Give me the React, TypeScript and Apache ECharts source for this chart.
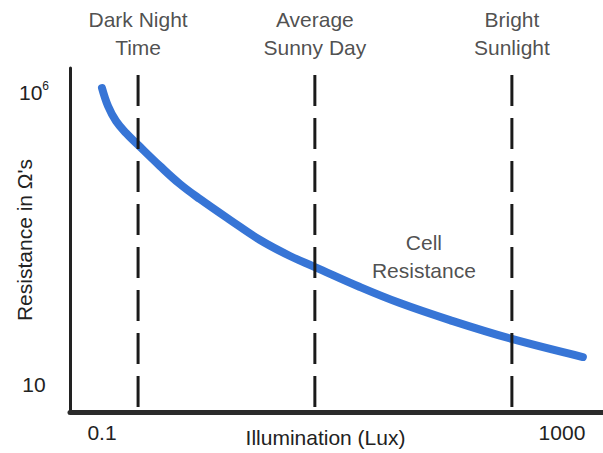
import React, { useEffect, useRef } from "react";
import * as echarts from "echarts";

// Illumination (lux) and cell resistance (ohms)
const luxPoints = [0.1, 0.1128, 0.1324, 0.1618, 0.206, 0.319, 0.476, 0.711, 1.3, 2.37, 4.31, 7.11, 17.5, 39, 106, 367, 1520];
const resistanceOhms = [1.17e6, 5.77e5, 3.2e5, 2.0e5, 1.25e5, 5.46e4, 2.69e4, 1.49e4, 6550, 2980, 1590, 1030, 470, 250, 128, 61, 30];

// Reference illumination levels (lux)
const levelNames = ["Dark Night\nTime", "Average\nSunny Day", "Bright\nSunlight"];
const levelLux = [0.206, 7.1, 367];

// Tick labels
const xTickValues = [0.1, 1000];
const xTickLabels = ["0.1", "1000"];
const yTickValues = [10, 1e6];
const yTickLabels = ["10", "10{sup|6}"];

// Axis ranges (in lux / ohms)
const xRange = [0.0527, 2275];
const yRange = [3.46, 2.57e6];
const levelTopOhms = 1.95e6;

// Curve annotation
const curveLabel = "Cell\nResistance";
const curveLabelAt = [63, 1585];

const L = (v: number) => Math.log10(v);
const FONT = "Liberation Sans";
const TXT = "#222222";

export default function App() {
  const ref = useRef<HTMLDivElement>(null);
  useEffect(() => {
    const chart = echarts.init(ref.current!, null, { renderer: "svg" });
    const near = (a: number, b: number) => Math.abs(a - b) < 1e-6;
    const series: any[] = [
      {
        type: "line",
        data: luxPoints.map((x, i) => [L(x), L(resistanceOhms[i])]),
        smooth: 0.4,
        showSymbol: false,
        symbol: "none",
        lineStyle: { color: "#3775d6", width: 8, cap: "round" },
        z: 2,
      },
      ...levelLux.map((lux) => ({
        type: "line",
        data: [
          [L(lux), L(levelTopOhms)],
          [L(lux), L(yRange[0])],
        ],
        symbol: "none",
        lineStyle: { color: "#1a1a1a", width: 3, type: [31, 12] },
        z: 3,
      })),
      {
        type: "scatter",
        symbolSize: 1,
        itemStyle: { color: "rgba(0,0,0,0)" },
        data: levelLux.map((lux, i) => ({ value: [L(lux), L(levelTopOhms)], name: levelNames[i] })),
        label: {
          show: true,
          position: "top",
          distance: 13,
          formatter: (p: any) => p.name,
          fontFamily: FONT,
          fontSize: 21,
          lineHeight: 28,
          color: TXT,
          align: "center",
        },
        z: 4,
      },
      {
        type: "scatter",
        symbolSize: 1,
        itemStyle: { color: "rgba(0,0,0,0)" },
        data: [{ value: [L(curveLabelAt[0]), L(curveLabelAt[1])], name: curveLabel }],
        label: {
          show: true,
          position: "inside",
          formatter: (p: any) => p.name,
          fontFamily: FONT,
          fontSize: 21,
          lineHeight: 28,
          color: TXT,
          align: "center",
        },
        z: 4,
      },
    ];
    chart.setOption({
      animation: false,
      backgroundColor: "#ffffff",
      grid: { left: 70, right: 0, top: 68, bottom: 41, containLabel: false, outerBoundsMode: "none" },
      xAxis: {
        type: "value",
        min: L(xRange[0]),
        max: L(xRange[1]),
        axisLine: { show: true, onZero: false, lineStyle: { color: "#2b2b2b", width: 5 } },
        axisTick: { show: false },
        splitLine: { show: false },
        axisLabel: {
          customValues: xTickValues.map(L),
          formatter: (v: number) => {
            const i = xTickValues.findIndex((t) => near(L(t), v));
            return i >= 0 ? xTickLabels[i] : "";
          },
          margin: 10,
          fontFamily: FONT,
          fontSize: 21,
          color: TXT,
        },
        name: "Illumination (Lux)",
        nameLocation: "middle",
        nameGap: 15,
        nameMoveOverlap: false,
        nameTextStyle: {
          fontFamily: FONT,
          fontSize: 21,
          color: TXT,
          verticalAlign: "top",
          padding: [0, 22, 0, 0],
        },
      },
      yAxis: {
        type: "value",
        min: L(yRange[0]),
        max: L(yRange[1]),
        axisLine: { show: true, onZero: false, lineStyle: { color: "#222222", width: 3 } },
        axisTick: { show: false },
        splitLine: { show: false },
        axisLabel: {
          customValues: yTickValues.map(L),
          formatter: (v: number) => {
            const i = yTickValues.findIndex((t) => near(L(t), v));
            return i >= 0 ? yTickLabels[i] : "";
          },
          align: "center",
          margin: 36,
          fontFamily: FONT,
          fontSize: 21,
          color: TXT,
          rich: {
            sup: { fontFamily: FONT, fontSize: 12, color: TXT, verticalAlign: "top", padding: [0, 0, 12, 0] },
          },
        },
        name: "Resistance in \u03A9's",
        nameLocation: "middle",
        nameGap: 35,
        nameMoveOverlap: false,
        nameRotate: 90,
        nameTextStyle: { fontFamily: FONT, fontSize: 21, color: TXT },
      },
      series,
    });
    return () => chart.dispose();
  }, []);
  return (
    <div
      ref={ref}
      style={{ position: "fixed", left: 0, top: 0, width: 603, height: 453, background: "#fff" }}
    />
  );
}
